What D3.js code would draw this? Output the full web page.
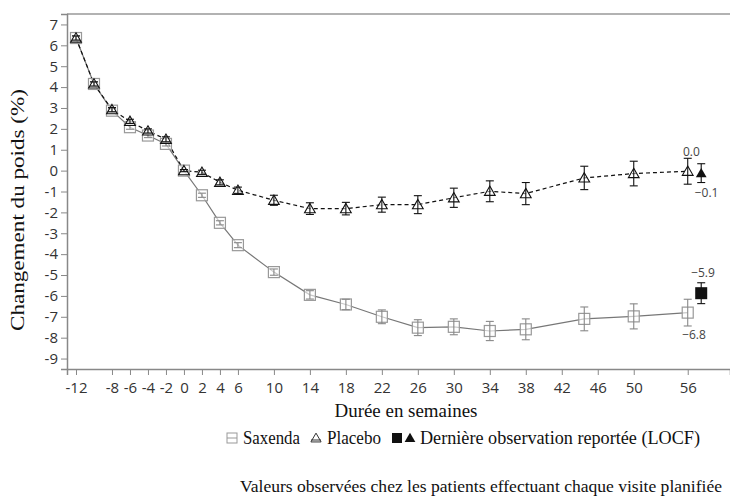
<!DOCTYPE html>
<html>
<head>
<meta charset="utf-8">
<script src="https://cdn.jsdelivr.net/npm/d3@7"></script>
<style>
  body { margin: 0; background: #fff; }
  .axis text { font-family: "Open Sans", sans-serif; font-size: 15px; fill: #333; }
  .axis path, .axis line { stroke: #888; }
  .note { font-family: "Open Sans", sans-serif; font-size: 12px; fill: #444; }
</style>
</head>
<body>
<svg id="chart"></svg>
<script>
// weeks of visits
const weeks = [-12, -10, -8, -6, -4, -2, 0, 2, 4, 6, 10, 14, 18, 22, 26, 30, 34, 38, 44.5, 50, 56];
const saxenda = [6.35, 4.15, 2.87, 2.08, 1.68, 1.28, 0, -1.18, -2.5, -3.57, -4.86, -5.95, -6.41, -7.0, -7.52, -7.48, -7.68, -7.6, -7.1, -6.98, -6.8];
const saxendaErr = [0.1, 0.1, 0.1, 0.1, 0.1, 0.1, 0.05, 0.1, 0.1, 0.12, 0.15, 0.2, 0.25, 0.33, 0.38, 0.38, 0.46, 0.5, 0.57, 0.6, 0.64];
const placebo = [6.35, 4.15, 2.92, 2.36, 1.9, 1.5, 0, -0.08, -0.56, -0.94, -1.42, -1.82, -1.82, -1.63, -1.63, -1.3, -0.99, -1.1, -0.35, -0.14, -0.03];
const placeboErr = [0.1, 0.1, 0.1, 0.1, 0.1, 0.12, 0.05, 0.1, 0.12, 0.15, 0.24, 0.28, 0.3, 0.36, 0.43, 0.46, 0.5, 0.53, 0.56, 0.59, 0.62];
// LOCF
const locfWeek = 57.5;
const locfSaxenda = -5.87, locfSaxendaErr = 0.5;
const locfPlacebo = -0.12, locfPlaceboErr = 0.45;

const xTicks = [-12, -8, -6, -4, -2, 0, 2, 4, 6, 10, 14, 18, 22, 26, 30, 34, 38, 42, 46, 50, 56];
const yTicks = [-9, -8, -7, -6, -5, -4, -3, -2, -1, 0, 1, 2, 3, 4, 5, 6, 7];

const SERIF = "'Liberation Serif', 'Times New Roman', Times, serif";

const width = 730, height = 500;
const svg = d3.select("#chart").attr("width", width).attr("height", height);

const x = d3.scaleLinear().domain([-13, 60.7]).range([67, 730]);
const y = d3.scaleLinear().domain([-9.5, 7.5]).range([369, 14]);

// top border
svg.append("line")
    .attr("x1", 67).attr("x2", 730).attr("y1", 14).attr("y2", 14)
    .attr("stroke", "#999").attr("stroke-width", 1.5);

svg.append("g")
    .attr("class", "axis")
    .attr("transform", "translate(0,369)")
    .call(d3.axisBottom(x).tickValues(xTicks).tickSizeOuter(0).tickSize(6).tickFormat(d => String(d)))
    .call(g => g.selectAll("text").attr("dy", "1.0em"))
    .call(g => g.select(".domain").attr("stroke-width", 1.5));

svg.append("g")
    .attr("class", "axis")
    .attr("transform", "translate(67,0)")
    .call(d3.axisLeft(y).tickValues(yTicks).tickSizeOuter(0).tickSize(6).tickFormat(d => String(d)))
    .call(g => g.select(".domain").attr("stroke-width", 1.5));

function serifText(xp, yp, size, txt, len) {
    const t = svg.append("text")
        .attr("x", xp).attr("y", yp)
        .attr("font-family", SERIF).attr("font-size", size)
        .attr("fill", "#111")
        .text(txt);
    if (len) t.attr("textLength", len).attr("lengthAdjust", "spacingAndGlyphs");
    return t;
}

// titles
serifText(0, 0, 19, "Changement du poids (%)", 242)
    .attr("transform", "translate(24,210) rotate(-90)")
    .attr("text-anchor", "middle");

serifText(406, 417, 18, "Durée en semaines", 143).attr("text-anchor", "middle");

// lines
const sax = weeks.map((w, i) => ({ x: w, y: saxenda[i], e: saxendaErr[i] }));
const pla = weeks.map((w, i) => ({ x: w, y: placebo[i], e: placeboErr[i] }));

const line = d3.line().x(d => x(d.x)).y(d => y(d.y));

svg.append("path").datum(sax)
    .attr("fill", "none").attr("stroke", "#777").attr("stroke-width", 1.2)
    .attr("d", line);

svg.append("path").datum(pla)
    .attr("fill", "none").attr("stroke", "#111").attr("stroke-width", 1.2)
    .attr("stroke-dasharray", "4,3")
    .attr("d", line);

function errorBars(data, color) {
    const g = svg.append("g").attr("stroke", color).attr("stroke-width", 1.1);
    data.forEach(d => {
        const cx = x(d.x), y1 = y(d.y + d.e), y2 = y(d.y - d.e);
        g.append("line").attr("x1", cx).attr("x2", cx).attr("y1", y1).attr("y2", y2);
        g.append("line").attr("x1", cx - 4).attr("x2", cx + 4).attr("y1", y1).attr("y2", y1);
        g.append("line").attr("x1", cx - 4).attr("x2", cx + 4).attr("y1", y2).attr("y2", y2);
    });
}

const tri = d3.symbol().type(d3.symbolTriangle).size(50);

// saxenda markers
svg.append("g").selectAll("rect").data(sax).enter().append("rect")
    .attr("x", d => x(d.x) - 5.5).attr("y", d => y(d.y) - 5.5)
    .attr("width", 11).attr("height", 11)
    .attr("fill", "#fff").attr("fill-opacity", 0.6)
    .attr("stroke", "#999").attr("stroke-width", 1.2);
errorBars(sax, "#888");

// placebo markers
svg.append("g").selectAll("path").data(pla).enter().append("path")
    .attr("d", tri)
    .attr("transform", d => "translate(" + x(d.x) + "," + (y(d.y) + 1) + ")")
    .attr("fill", "#fff").attr("fill-opacity", 0.5)
    .attr("stroke", "#111").attr("stroke-width", 1.1);
errorBars(pla, "#111");

// LOCF
const locfS = [{ x: locfWeek, y: locfSaxenda, e: locfSaxendaErr }];
const locfP = [{ x: locfWeek, y: locfPlacebo, e: locfPlaceboErr }];
errorBars(locfS, "#111");
errorBars(locfP, "#111");
svg.append("rect")
    .attr("x", x(locfWeek) - 6).attr("y", y(locfSaxenda) - 6)
    .attr("width", 12).attr("height", 12).attr("fill", "#111");
svg.append("path").attr("d", tri)
    .attr("transform", "translate(" + x(locfWeek) + "," + (y(locfPlacebo) + 1) + ")")
    .attr("fill", "#111");

// value labels
const notes = [
    { t: "0.0", x: 56.4, y: 0.9 },
    { t: "\u22120.1", x: 58.1, y: -1.05 },
    { t: "\u22125.9", x: 57.7, y: -4.9 },
    { t: "\u22126.8", x: 56.7, y: -7.85 }
];
svg.append("g").selectAll("text").data(notes).enter().append("text")
    .attr("class", "note")
    .attr("x", d => x(d.x)).attr("y", d => y(d.y))
    .attr("text-anchor", "middle").attr("dy", "0.35em")
    .text(d => d.t);

// legend
const leg = svg.append("g");
leg.append("rect").attr("x", 227).attr("y", 433).attr("width", 10).attr("height", 10)
    .attr("fill", "none").attr("stroke", "#999");
leg.append("line").attr("x1", 227).attr("x2", 237).attr("y1", 438).attr("y2", 438).attr("stroke", "#999");
serifText(243, 444, 18, "Saxenda", 57);
leg.append("path").attr("d", d3.symbol().type(d3.symbolTriangle).size(45))
    .attr("transform", "translate(316,439)").attr("fill", "none").attr("stroke", "#333");
leg.append("line").attr("x1", 311).attr("x2", 321).attr("y1", 440).attr("y2", 440).attr("stroke", "#333");
serifText(327, 444, 18, "Placebo", 54);
leg.append("rect").attr("x", 392).attr("y", 433).attr("width", 10).attr("height", 10).attr("fill", "#111");
leg.append("path").attr("d", d3.symbol().type(d3.symbolTriangle).size(50))
    .attr("transform", "translate(410,439)").attr("fill", "#111");
serifText(420, 444, 18, "Dernière observation reportée (LOCF)", 280);

serifText(240, 492, 17, "Valeurs observées chez les patients effectuant chaque visite planifiée", 482);
</script>
</body>
</html>
